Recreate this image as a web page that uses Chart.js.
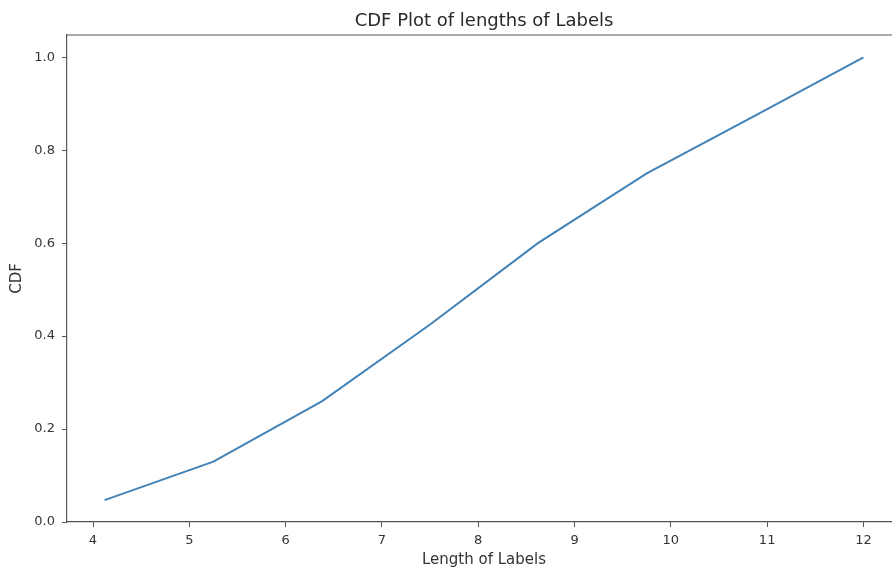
<!DOCTYPE html>
<html>
<head>
<meta charset="utf-8">
<script src="https://cdn.jsdelivr.net/npm/chart.js@4"></script>
<style>
  html, body { margin: 0; padding: 0; background: #fff; overflow: hidden; }
  #wrap { width: 892px; height: 570px; overflow: hidden; }
  #box { width: 910px; height: 570px; }
</style>
</head>
<body>
<div id="wrap"><div id="box"><canvas id="cdf"></canvas></div></div>
<script>
// values
const labelLengths = [4.12, 5.25, 6.38, 7.5, 8.62, 9.75, 10.88, 12];
const cdfValues = [0.047, 0.13, 0.26, 0.425, 0.6, 0.75, 0.875, 1.0];
const xTicks = [4, 5, 6, 7, 8, 9, 10, 11, 12];
const yTicks = [0, 0.2, 0.4, 0.6, 0.8, 1.0];

const textColor = '#333';
const spineColor = '#555';

// title centred over the plot area + top spine (matplotlib style)
const frame = {
    id: 'frame',
    afterDraw(chart) {
        const { ctx, chartArea } = chart;
        ctx.save();
        ctx.strokeStyle = spineColor;
        ctx.lineWidth = 1.2;
        ctx.beginPath();
        ctx.moveTo(chartArea.left, chartArea.top);
        ctx.lineTo(chartArea.right, chartArea.top);
        ctx.lineTo(chartArea.right, chartArea.bottom);
        ctx.stroke();

        ctx.fillStyle = '#2a2a2a';
        ctx.font = '18px "DejaVu Sans"';
        ctx.textAlign = 'center';
        ctx.textBaseline = 'alphabetic';
        ctx.fillText('CDF Plot of lengths of Labels', (chartArea.left + chartArea.right) / 2, 26);
        ctx.restore();
    }
};

new Chart(document.getElementById('cdf'), {
    type: 'line',
    data: {
        datasets: [{
            data: labelLengths.map((x, i) => ({ x: x, y: cdfValues[i] })),
            borderColor: '#4282b6',
            borderWidth: 2,
            pointRadius: 0,
            tension: 0,
            fill: false
        }]
    },
    options: {
        responsive: true,
        maintainAspectRatio: false,
        animation: false,
        layout: { padding: { top: 35, right: 9, left: 0, bottom: 0 } },
        plugins: {
            legend: { display: false },
            tooltip: { enabled: false }
        },
        scales: {
            x: {
                type: 'linear',
                min: 3.73,
                max: 12.39,
                afterBuildTicks: axis => { axis.ticks = xTicks.map(v => ({ value: v })); },
                afterFit: axis => { axis.height = 48; },
                grid: { display: true, drawOnChartArea: false, drawTicks: true, tickLength: 5, color: spineColor },
                border: { display: true, color: spineColor, width: 1.2 },
                ticks: { color: textColor, font: { family: 'DejaVu Sans', size: 13 }, padding: 6, maxRotation: 0 },
                title: { display: true, text: 'Length of Labels', color: textColor, font: { family: 'DejaVu Sans', size: 15 }, padding: { top: 0, bottom: 1 } }
            },
            y: {
                min: 0,
                max: 1.048,
                afterBuildTicks: axis => { axis.ticks = yTicks.map(v => ({ value: v })); },
                afterFit: axis => { axis.width = 67; },
                grid: { display: true, drawOnChartArea: false, drawTicks: true, tickLength: 5, color: spineColor },
                border: { display: true, color: spineColor, width: 1.2 },
                ticks: { color: textColor, font: { family: 'DejaVu Sans', size: 13 }, padding: 7, callback: v => v.toFixed(1) },
                title: { display: true, text: 'CDF', color: textColor, font: { family: 'DejaVu Sans', size: 15 }, padding: { top: 8, bottom: 4 } }
            }
        }
    },
    plugins: [frame]
});
</script>
</body>
</html>
